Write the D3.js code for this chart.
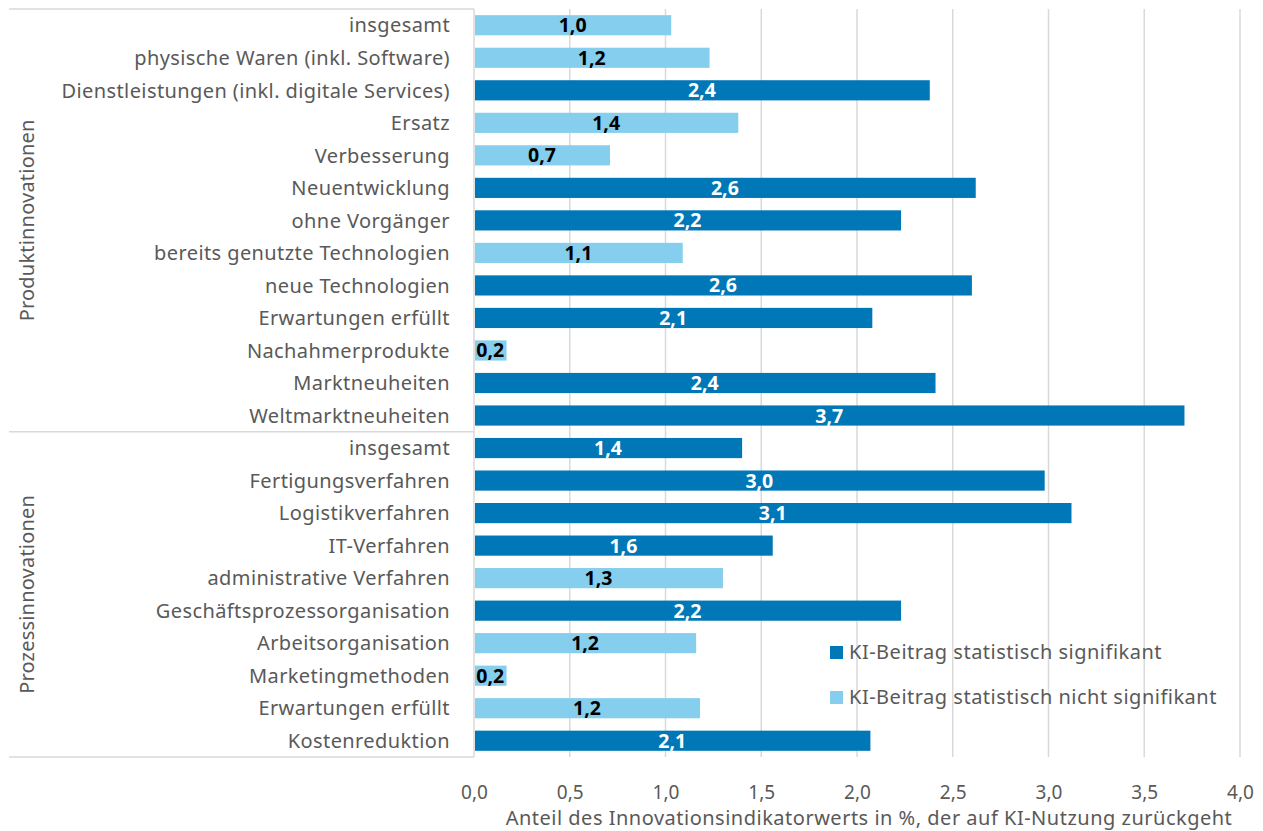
<!DOCTYPE html>
<head>
  <meta charset="utf-8">
  <script src="https://d3js.org/d3.v7.min.js"></script>
  <style>
    body { margin:0; background:#fff; }
    text { font-family: "Noto Sans", sans-serif; }
  </style>
</head>
<body>
  <script>
    // data
    var groups = ["Produktinnovationen", "Prozessinnovationen"];
    var categories = [
      "insgesamt", "physische Waren (inkl. Software)", "Dienstleistungen (inkl. digitale Services)",
      "Ersatz", "Verbesserung", "Neuentwicklung", "ohne Vorgänger", "bereits genutzte Technologien",
      "neue Technologien", "Erwartungen erfüllt", "Nachahmerprodukte", "Marktneuheiten", "Weltmarktneuheiten",
      "insgesamt", "Fertigungsverfahren", "Logistikverfahren", "IT-Verfahren", "administrative Verfahren",
      "Geschäftsprozessorganisation", "Arbeitsorganisation", "Marketingmethoden", "Erwartungen erfüllt",
      "Kostenreduktion"
    ];
    var groupOf = [0,0,0,0,0,0,0,0,0,0,0,0,0, 1,1,1,1,1,1,1,1,1,1];
    var values = [1.03, 1.23, 2.38, 1.38, 0.71, 2.62, 2.23, 1.09, 2.60, 2.08, 0.17, 2.41, 3.71,
                  1.40, 2.98, 3.12, 1.56, 1.30, 2.23, 1.16, 0.17, 1.18, 2.07];
    var significant = [0,0,1,0,0,1,1,0,1,1,0,1,1, 1,1,1,1,0,1,0,0,0,1];
    var xTicks = [0, 0.5, 1, 1.5, 2, 2.5, 3, 3.5, 4];
    var seriesNames = ["KI-Beitrag statistisch signifikant", "KI-Beitrag statistisch nicht signifikant"];

    var dark = "#0077b6", light = "#85ceed", grey = "#595959";
    var width = 1263, height = 831;
    var plotLeft = 474, plotRight = 1240, plotTop = 9, plotBottom = 757;

    var svg = d3.select("body").append("svg")
      .attr("width", width).attr("height", height);

    var x = d3.scaleLinear().domain([0, 4]).range([plotLeft, plotRight]);
    var y = d3.scaleBand().domain(d3.range(categories.length)).range([plotTop, plotBottom])
      .paddingInner(0.38).paddingOuter(0.19);
    var fmt = function(v) { return d3.format(".1f")(v).replace(".", ","); };

    // grid
    svg.append("g").selectAll("line").data(xTicks).join("line")
      .attr("x1", d => x(d)).attr("x2", d => x(d))
      .attr("y1", plotTop).attr("y2", plotBottom)
      .attr("stroke", "#d9d9d9").attr("stroke-width", 1.5);

    // category box lines
    var box = svg.append("g").attr("stroke", "#d9d9d9").attr("stroke-width", 1.5);
    var sep = y(13) - (y.step() - y.bandwidth()) / 2;
    [plotTop, sep, plotBottom].forEach(function(yy) {
      box.append("line").attr("x1", 9).attr("x2", plotLeft).attr("y1", yy).attr("y2", yy);
    });

    // bars
    svg.append("g").selectAll("rect").data(values).join("rect")
      .attr("x", x(0) + 1)
      .attr("y", (d, i) => y(i))
      .attr("width", d => x(d) - x(0) - 1)
      .attr("height", y.bandwidth())
      .attr("fill", (d, i) => significant[i] ? dark : light);

    // value labels
    svg.append("g").selectAll("text").data(values).join("text")
      .attr("x", d => (x(0) + x(d)) / 2)
      .attr("y", (d, i) => y(i) + y.bandwidth() / 2)
      .attr("dy", "0.36em")
      .attr("text-anchor", "middle")
      .attr("font-size", 19.5).attr("font-weight", "bold")
      .attr("fill", (d, i) => significant[i] ? "#fff" : "#000")
      .text(fmt);

    // category labels
    svg.append("g").selectAll("text").data(categories).join("text")
      .attr("x", 450)
      .attr("y", (d, i) => y(i) + y.bandwidth() / 2)
      .attr("dy", "0.36em")
      .attr("text-anchor", "end")
      .attr("font-size", 20).attr("letter-spacing", 0.4).attr("fill", grey)
      .text(d => d);

    // group labels
    groups.forEach(function(g, gi) {
      var y0 = gi === 0 ? plotTop : sep, y1 = gi === 0 ? sep : plotBottom;
      svg.append("text")
        .attr("transform", "translate(34," + ((y0 + y1) / 2) + ") rotate(-90)")
        .attr("text-anchor", "middle")
        .attr("font-size", 20).attr("letter-spacing", 0.2).attr("fill", grey)
        .text(g);
    });

    // x axis
    var xAxis = svg.append("g").attr("transform", "translate(0," + plotBottom + ")")
      .call(d3.axisBottom(x).tickValues(xTicks).tickFormat(fmt).tickSize(0).tickPadding(29));
    xAxis.select(".domain").remove();
    xAxis.selectAll("text").attr("font-size", 19).attr("fill", grey)
      .attr("font-family", "Noto Sans");

    svg.append("text")
      .attr("x", 869).attr("y", 825)
      .attr("text-anchor", "middle")
      .attr("font-size", 20).attr("letter-spacing", 0.5).attr("fill", grey)
      .text("Anteil des Innovationsindikatorwerts in %, der auf KI-Nutzung zurückgeht");

    // legend
    var legend = svg.append("g").selectAll("g").data(seriesNames).join("g")
      .attr("transform", (d, i) => "translate(830," + (652 + i * 45) + ")");
    legend.append("rect").attr("x", 0).attr("y", -6).attr("width", 13).attr("height", 13)
      .attr("fill", (d, i) => i === 0 ? dark : light);
    legend.append("text").attr("x", 19).attr("dy", "0.36em")
      .attr("font-size", 20).attr("letter-spacing", 0.5).attr("fill", grey)
      .text(d => d);
  </script>
</body>
